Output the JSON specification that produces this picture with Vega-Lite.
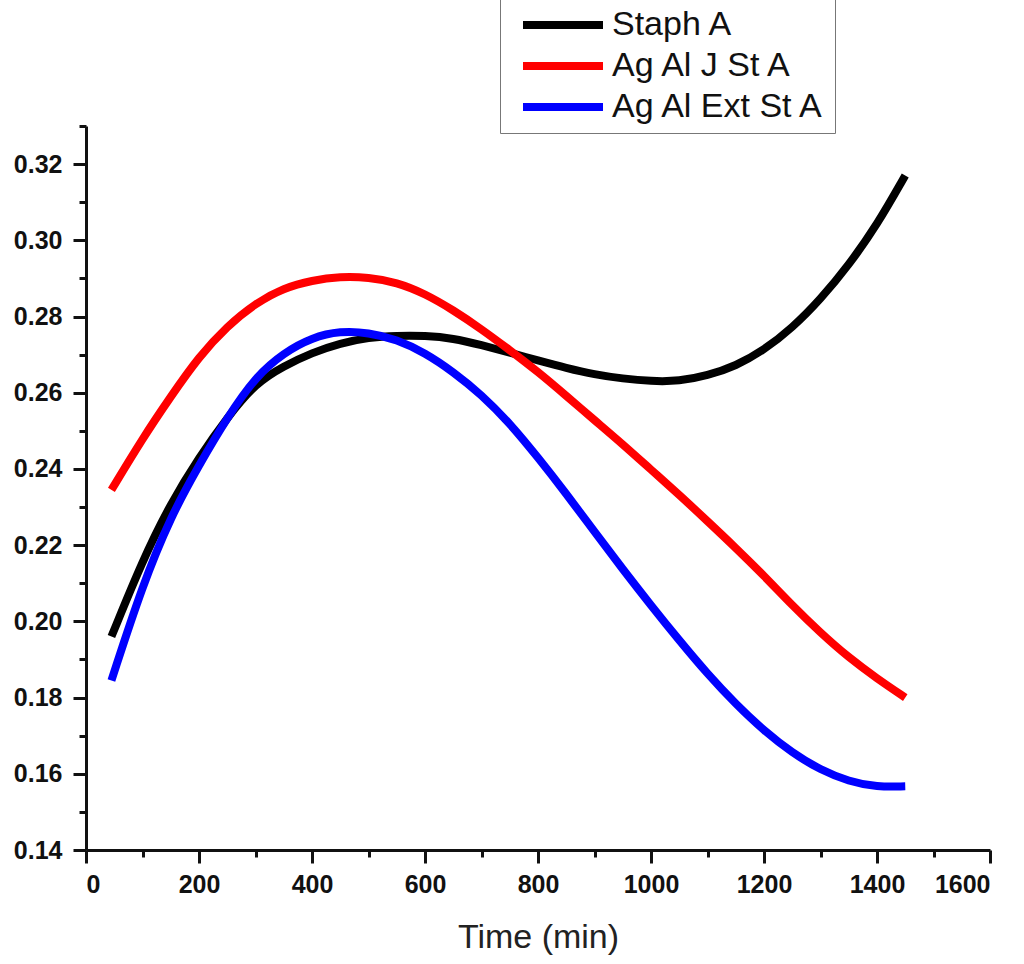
{
  "$schema": "https://vega.github.io/schema/vega-lite/v6.json",
  "width": 904,
  "height": 724,
  "autosize": "none",
  "padding": {"left": 86, "top": 126, "right": 34, "bottom": 114},
  "background": "white",
  "config": {
    "view": {"stroke": null},
    "font": "Liberation Sans",
    "axis": {
      "grid": false,
      "domainColor": "#111",
      "domainWidth": 3,
      "tickColor": "#111",
      "tickWidth": 3,
      "labelFont": "Liberation Sans",
      "labelFontWeight": "bold",
      "labelFontSize": 25,
      "labelColor": "#111"
    }
  },
  "data": {
    "values": [
      {"series": "Staph A", "time": 45, "value": 0.196},
      {"series": "Staph A", "time": 100, "value": 0.216},
      {"series": "Staph A", "time": 150, "value": 0.231},
      {"series": "Staph A", "time": 200, "value": 0.243},
      {"series": "Staph A", "time": 250, "value": 0.2535},
      {"series": "Staph A", "time": 300, "value": 0.2625},
      {"series": "Staph A", "time": 350, "value": 0.267},
      {"series": "Staph A", "time": 400, "value": 0.2705},
      {"series": "Staph A", "time": 450, "value": 0.273},
      {"series": "Staph A", "time": 500, "value": 0.2745},
      {"series": "Staph A", "time": 550, "value": 0.275},
      {"series": "Staph A", "time": 600, "value": 0.275},
      {"series": "Staph A", "time": 650, "value": 0.2743},
      {"series": "Staph A", "time": 700, "value": 0.2725},
      {"series": "Staph A", "time": 750, "value": 0.2705},
      {"series": "Staph A", "time": 800, "value": 0.2685},
      {"series": "Staph A", "time": 850, "value": 0.2665},
      {"series": "Staph A", "time": 900, "value": 0.2648},
      {"series": "Staph A", "time": 950, "value": 0.2637},
      {"series": "Staph A", "time": 1000, "value": 0.263},
      {"series": "Staph A", "time": 1050, "value": 0.263},
      {"series": "Staph A", "time": 1100, "value": 0.2645},
      {"series": "Staph A", "time": 1150, "value": 0.267},
      {"series": "Staph A", "time": 1200, "value": 0.2712},
      {"series": "Staph A", "time": 1250, "value": 0.277},
      {"series": "Staph A", "time": 1300, "value": 0.2845},
      {"series": "Staph A", "time": 1350, "value": 0.2935},
      {"series": "Staph A", "time": 1400, "value": 0.304},
      {"series": "Staph A", "time": 1450, "value": 0.317},
      {"series": "Ag Al J St A", "time": 45, "value": 0.2345},
      {"series": "Ag Al J St A", "time": 100, "value": 0.248},
      {"series": "Ag Al J St A", "time": 150, "value": 0.259},
      {"series": "Ag Al J St A", "time": 200, "value": 0.2695},
      {"series": "Ag Al J St A", "time": 250, "value": 0.2775},
      {"series": "Ag Al J St A", "time": 300, "value": 0.2835},
      {"series": "Ag Al J St A", "time": 350, "value": 0.2875},
      {"series": "Ag Al J St A", "time": 400, "value": 0.2895},
      {"series": "Ag Al J St A", "time": 450, "value": 0.2905},
      {"series": "Ag Al J St A", "time": 500, "value": 0.2903},
      {"series": "Ag Al J St A", "time": 550, "value": 0.289},
      {"series": "Ag Al J St A", "time": 600, "value": 0.286},
      {"series": "Ag Al J St A", "time": 650, "value": 0.2817},
      {"series": "Ag Al J St A", "time": 700, "value": 0.2767},
      {"series": "Ag Al J St A", "time": 750, "value": 0.2712},
      {"series": "Ag Al J St A", "time": 800, "value": 0.2655},
      {"series": "Ag Al J St A", "time": 850, "value": 0.2592},
      {"series": "Ag Al J St A", "time": 900, "value": 0.2528},
      {"series": "Ag Al J St A", "time": 950, "value": 0.2465},
      {"series": "Ag Al J St A", "time": 1000, "value": 0.2398},
      {"series": "Ag Al J St A", "time": 1050, "value": 0.2332},
      {"series": "Ag Al J St A", "time": 1100, "value": 0.2263},
      {"series": "Ag Al J St A", "time": 1150, "value": 0.2193},
      {"series": "Ag Al J St A", "time": 1200, "value": 0.212},
      {"series": "Ag Al J St A", "time": 1250, "value": 0.2042},
      {"series": "Ag Al J St A", "time": 1300, "value": 0.197},
      {"series": "Ag Al J St A", "time": 1350, "value": 0.1905},
      {"series": "Ag Al J St A", "time": 1400, "value": 0.185},
      {"series": "Ag Al J St A", "time": 1450, "value": 0.18},
      {"series": "Ag Al Ext St A", "time": 45, "value": 0.1845},
      {"series": "Ag Al Ext St A", "time": 100, "value": 0.2095},
      {"series": "Ag Al Ext St A", "time": 150, "value": 0.2275},
      {"series": "Ag Al Ext St A", "time": 200, "value": 0.241},
      {"series": "Ag Al Ext St A", "time": 250, "value": 0.2535},
      {"series": "Ag Al Ext St A", "time": 300, "value": 0.2642},
      {"series": "Ag Al Ext St A", "time": 350, "value": 0.2705},
      {"series": "Ag Al Ext St A", "time": 400, "value": 0.2745},
      {"series": "Ag Al Ext St A", "time": 450, "value": 0.2762},
      {"series": "Ag Al Ext St A", "time": 500, "value": 0.2758},
      {"series": "Ag Al Ext St A", "time": 550, "value": 0.274},
      {"series": "Ag Al Ext St A", "time": 600, "value": 0.2705},
      {"series": "Ag Al Ext St A", "time": 650, "value": 0.2655},
      {"series": "Ag Al Ext St A", "time": 700, "value": 0.2595},
      {"series": "Ag Al Ext St A", "time": 750, "value": 0.252},
      {"series": "Ag Al Ext St A", "time": 800, "value": 0.243},
      {"series": "Ag Al Ext St A", "time": 850, "value": 0.2335},
      {"series": "Ag Al Ext St A", "time": 900, "value": 0.2235},
      {"series": "Ag Al Ext St A", "time": 950, "value": 0.2137},
      {"series": "Ag Al Ext St A", "time": 1000, "value": 0.2042},
      {"series": "Ag Al Ext St A", "time": 1050, "value": 0.195},
      {"series": "Ag Al Ext St A", "time": 1100, "value": 0.1862},
      {"series": "Ag Al Ext St A", "time": 1150, "value": 0.1783},
      {"series": "Ag Al Ext St A", "time": 1200, "value": 0.1713},
      {"series": "Ag Al Ext St A", "time": 1250, "value": 0.1655},
      {"series": "Ag Al Ext St A", "time": 1300, "value": 0.161},
      {"series": "Ag Al Ext St A", "time": 1350, "value": 0.158},
      {"series": "Ag Al Ext St A", "time": 1400, "value": 0.1565},
      {"series": "Ag Al Ext St A", "time": 1450, "value": 0.1567}
    ]
  },
  "layer": [
    {
      "mark": {"type": "line", "interpolate": "basis", "strokeWidth": 8, "strokeCap": "butt"},
      "encoding": {
        "x": {
          "field": "time",
          "type": "quantitative",
          "scale": {"domain": [0, 1600], "nice": false},
          "axis": {
            "orient": "bottom",
            "values": [0, 200, 400, 600, 800, 1000, 1200, 1400, 1600],
            "format": "d",
            "tickSize": 13,
            "labelPadding": 9,
            "title": "Time (min)",
            "titleFont": "Liberation Sans",
            "titleFontSize": 34,
            "titleFontWeight": "normal",
            "titleColor": "#222",
            "titleBaseline": "alphabetic",
            "titleY": 97
          }
        },
        "y": {
          "field": "value",
          "type": "quantitative",
          "scale": {"domain": [0.14, 0.33], "nice": false, "zero": false},
          "axis": {
            "orient": "left",
            "values": [0.14, 0.16, 0.18, 0.2, 0.22, 0.24, 0.26, 0.28, 0.3, 0.32],
            "format": ".2f",
            "tickSize": 13,
            "labelPadding": 11,
            "title": null
          }
        },
        "color": {
          "field": "series",
          "type": "nominal",
          "scale": {
            "domain": ["Staph A", "Ag Al J St A", "Ag Al Ext St A"],
            "range": ["#000000", "#ff0000", "#0000ff"]
          },
          "legend": {
            "orient": "none",
            "legendX": 414,
            "legendY": -127,
            "title": null,
            "symbolType": "M-5,0H5",
            "symbolSize": 256,
            "symbolStrokeWidth": 8,
            "symbolOffset": 37,
            "labelFont": "Liberation Sans",
            "labelFontSize": 34,
            "labelColor": "#111",
            "labelOffset": 32,
            "labelLimit": 400,
            "rowPadding": 7,
            "padding": 9,
            "strokeColor": "#777",
            "fillColor": "white"
          }
        }
      }
    },
    {
      "mark": {"type": "line", "interpolate": "basis", "strokeOpacity": 0},
      "encoding": {
        "x": {
          "field": "time",
          "type": "quantitative",
          "axis": {
            "orient": "bottom",
            "values": [100, 300, 500, 700, 900, 1100, 1300, 1500],
            "tickSize": 7,
            "labels": false,
            "domain": false,
            "title": null
          }
        },
        "y": {
          "field": "value",
          "type": "quantitative",
          "axis": {
            "orient": "left",
            "values": [0.15, 0.17, 0.19, 0.21, 0.23, 0.25, 0.27, 0.29, 0.31, 0.33],
            "tickSize": 7,
            "labels": false,
            "domain": false,
            "title": null
          }
        },
        "detail": {"field": "series", "type": "nominal"}
      }
    }
  ],
  "resolve": {"axis": {"x": "independent", "y": "independent"}}
}
